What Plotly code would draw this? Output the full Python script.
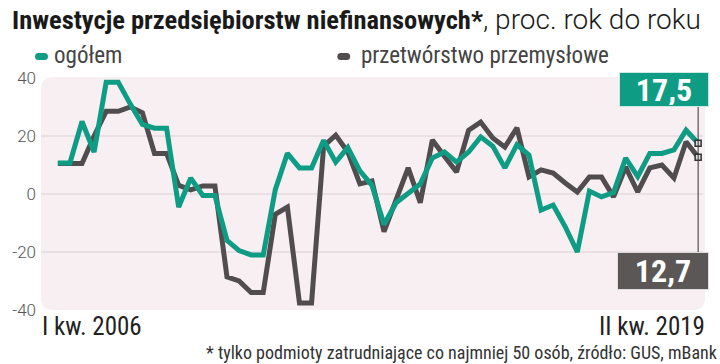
import plotly.graph_objects as go

# I kw. 2006 .. II kw. 2019 (quarterly, y/y %)
quarters = [f"{q} kw. {y}" for y in range(2006, 2020) for q in ["I", "II", "III", "IV"]][:54]

ogolem = [10.7, 10.7, 25, 14.5, 38.5, 38.5, 31, 24, 22.7, 22.7,
          -4.5, 5.5, -0.5, -0.5, -16, -19.5, -21, -21, 1.5, 14,
          9, 9, 18.5, 11, 16, 8, 3, -10.5, -3, 0,
          3.5, 12.4, 14.5, 11, 14.5, 19.7, 16.5, 9, 17, 13.4,
          -5.5, -3.8, -11.3, -20, 1, -1, 0.5, 12.4, 6, 14,
          14, 15.2, 22, 17.5]

przetworstwo = [10.5, 10.5, 10.5, 20, 28.5, 28.5, 30, 28, 14, 14,
                3, 1.4, 2.8, 2.8, -28.6, -30, -34, -34, -7, -4.5,
                -37.6, -37.6, 16.5, 20.3, 14.5, 3.5, 4.5, -13, -2, 9,
                -3, 18.6, 13, 7.6, 22, 24.8, 19.3, 16.2, 22.8, 5.9,
                8.3, 7.2, 3.8, 0.7, 5.9, 5.9, -1, 9.3, 0.7, 9,
                10, 5.5, 18, 12.7]

y_ticks = [40, 20, 0, -20, -40]
y_tick_text = ["40", "20", "0", "-20", "-40"]
grid_vals = [20, 0, -20]

series_names = ["ogółem", "przetwórstwo przemysłowe"]
GREEN = "#0e9c84"
GRAY = "#514d4e"
NARROW = "Liberation Sans Narrow, Roboto Condensed, sans-serif"
FONT = "Roboto, sans-serif"

x = list(range(len(quarters)))

fig = go.Figure()
fig.add_trace(go.Scatter(x=x, y=przetworstwo, mode="lines",
                         line=dict(color=GRAY, width=5), hoverinfo="skip",
                         text=quarters, name=series_names[1]))
fig.add_trace(go.Scatter(x=x, y=ogolem, mode="lines",
                         line=dict(color=GREEN, width=5), hoverinfo="skip",
                         text=quarters, name=series_names[0]))
fig.add_trace(go.Scatter(x=[x[-1], x[-1]], y=[ogolem[-1], przetworstwo[-1]], mode="markers",
                         marker=dict(symbol="square", size=6, color="#dddddd",
                                     line=dict(color="#333333", width=1.5)),
                         hoverinfo="skip"))

L, R, T, B = 35, 15, 77, 54
W, H = 720, 364
pw, ph = W - L - R, H - T - B

def px(xp):
    return (xp - L) / pw

def py(yp):
    return (H - B - yp) / ph

def rounded(x0, y0, x1, y1, r):
    # pixel box -> paper path with rounded corners
    a, b, c, d = px(x0), py(y1), px(x1), py(y0)
    rxp, ryp = r / pw, r / ph
    return (f"M {a+rxp},{b} L {c-rxp},{b} Q {c},{b} {c},{b+ryp} L {c},{d-ryp} "
            f"Q {c},{d} {c-rxp},{d} L {a+rxp},{d} Q {a},{d} {a},{d-ryp} L {a},{b+ryp} "
            f"Q {a},{b} {a+rxp},{b} Z")

shapes = []
shapes.append(dict(type="path", xref="paper", yref="paper", layer="below",
                   path=rounded(L, T, W - R, H - B, 12),
                   fillcolor="#f7eff2", line=dict(width=0)))
for g in grid_vals:
    shapes.append(dict(type="line", xref="paper", yref="y", x0=0, x1=px(703), y0=g, y1=g,
                       layer="below", line=dict(color="#ddd2d6", width=1.2)))
# connector line between value boxes
shapes.append(dict(type="line", xref="x", yref="paper", x0=x[-1], x1=x[-1],
                   y0=py(107), y1=py(252), line=dict(color="#333333", width=1)))
# legend pills
shapes.append(dict(type="path", xref="paper", yref="paper", path=rounded(29, 53, 42, 60, 3.5),
                   fillcolor=GREEN, line=dict(width=0)))
shapes.append(dict(type="path", xref="paper", yref="paper", path=rounded(334, 53, 347, 60, 3.5),
                   fillcolor=GRAY, line=dict(width=0)))

def fmt(v):
    return f"{v:.1f}".replace(".", ",")

title_txt = ("<b>Inwestycje przedsiębiorstw niefinansowych*</b>"
             "<span style=\"font-family:Roboto;font-weight:300;font-size:28px\">, proc. rok do roku</span>")

annotations = [
    dict(xref="paper", yref="paper", x=px(4), y=py(19), xanchor="left", yanchor="middle",
         text=title_txt, showarrow=False, font=dict(family=NARROW, size=26.5, color="#1a1a1a")),
    dict(xref="paper", yref="paper", x=px(46), y=py(56), xanchor="left", yanchor="middle",
         text=series_names[0], showarrow=False,
         font=dict(family=NARROW, size=23, color="#444444")),
    dict(xref="paper", yref="paper", x=px(356), y=py(56), xanchor="left", yanchor="middle",
         text=series_names[1], showarrow=False,
         font=dict(family=NARROW, size=23, color="#444444")),
    dict(xref="paper", yref="paper", x=px(34), y=py(326), xanchor="left", yanchor="middle",
         text=quarters[0], showarrow=False, font=dict(family=NARROW, size=25, color="#222222")),
    dict(xref="paper", yref="paper", x=px(707), y=py(326), xanchor="right", yanchor="middle",
         text=quarters[-1], showarrow=False, font=dict(family=NARROW, size=25, color="#222222")),
    dict(xref="paper", yref="paper", x=px(719), y=py(352), xanchor="right", yanchor="middle",
         text="* tylko podmioty zatrudniające co najmniej 50 osób, źródło: GUS, mBank",
         showarrow=False, font=dict(family=NARROW, size=18, color="#333333")),
    dict(xref="paper", yref="paper", x=px(664), y=py(89.5), xanchor="center", yanchor="middle",
         text=f"<b>{fmt(ogolem[-1])}</b>", showarrow=False, width=86, height=31,
         bgcolor=GREEN, bordercolor="#cfe8e2", borderwidth=1,
         font=dict(family=NARROW, size=32, color="white")),
    dict(xref="paper", yref="paper", x=px(663), y=py(271), xanchor="center", yanchor="middle",
         text=f"<b>{fmt(przetworstwo[-1])}</b>", showarrow=False, width=88, height=34,
         bgcolor="#5b5756", bordercolor="#dddddd", borderwidth=1,
         font=dict(family=NARROW, size=32, color="white")),
]

fig.update_layout(
    width=W, height=H, margin=dict(l=L, r=R, t=T, b=B),
    paper_bgcolor="white", plot_bgcolor="rgba(0,0,0,0)",
    showlegend=False,
    xaxis=dict(range=[(L - 52) / 12.19, (W - R - 52) / 12.19], visible=False),
    yaxis=dict(range=[-40, 40.35], tickvals=y_ticks, ticktext=y_tick_text,
               showgrid=False, zeroline=False, showline=False, ticks="",
               tickfont=dict(family=FONT, size=17, color="#555555", weight=300),
               ticklabelstandoff=4),
    shapes=shapes, annotations=annotations,
)

fig.write_html("out.html", config={"displayModeBar": False},
               post_script="document.body.style.margin='0';")
